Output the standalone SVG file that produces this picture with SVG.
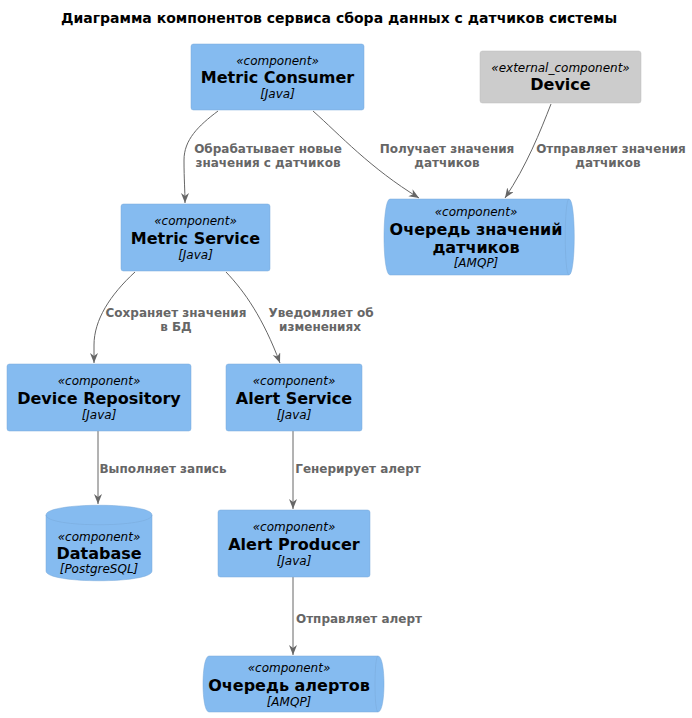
<svg xmlns="http://www.w3.org/2000/svg" width="692" height="718" viewBox="0 0 692 718">
<style>
text{font-family:"DejaVu Sans","Liberation Sans",sans-serif;text-anchor:middle}
.title{font-size:14px;font-weight:bold;fill:#000}
.st{font-size:12px;font-style:italic;fill:#000}
.nm{font-size:16px;font-weight:bold;fill:#000}
.tc{font-size:12px;font-style:italic;fill:#000}
.lb{font-size:12px;font-weight:bold;fill:#666666}
.comp{fill:#85BBF0;stroke:#78A8D8;stroke-width:0.5}
.ext{fill:#CCCCCC;stroke:#BFBFBF;stroke-width:0.5}
.inner{fill:none;stroke:#78A8D8;stroke-width:0.5}
.edge{fill:none;stroke:#666666;stroke-width:1}
</style>
<defs>
<marker id="arr" markerUnits="userSpaceOnUse" markerWidth="12" markerHeight="10" refX="10" refY="4" orient="auto">
<path d="M0,0 L10,4 L0,8 L3,4 Z" fill="#666666"/>
</marker>
</defs>
<rect width="692" height="718" fill="#FFFFFF"/>
<text class="title" x="339" y="23">Диаграмма компонентов сервиса сбора данных с датчиков системы</text>

<g id="connectors">
<path class="edge" marker-end="url(#arr)" d="M218,111 C198,126 184,140 184,160 C184,180 185,190 185,203"/>
<text class="lb" x="268" y="153">Обрабатывает новые</text>
<text class="lb" x="268" y="167">значения с датчиков</text>
<path class="edge" marker-end="url(#arr)" d="M313,111 C340,135 370,168 419,198"/>
<text class="lb" x="447" y="153">Получает значения</text>
<text class="lb" x="447" y="167">датчиков</text>
<path class="edge" marker-end="url(#arr)" d="M551,104 C540,132 527,165 505,198"/>
<text class="lb" x="611" y="153">Отправляет значения</text>
<text class="lb" x="608" y="167">датчиков</text>
<path class="edge" marker-end="url(#arr)" d="M135,272 C110,295 94,320 94,345 L94,363"/>
<text class="lb" x="176" y="317">Сохраняет значения</text>
<text class="lb" x="176" y="331">в БД</text>
<path class="edge" marker-end="url(#arr)" d="M226,272 C245,292 263,318 280,363"/>
<text class="lb" x="321" y="317">Уведомляет об</text>
<text class="lb" x="320" y="331">изменениях</text>
<path class="edge" marker-end="url(#arr)" d="M98,431 L98,504"/>
<text class="lb" x="163" y="473">Выполняет запись</text>
<path class="edge" marker-end="url(#arr)" d="M293,431 L293,509"/>
<text class="lb" x="358" y="473">Генерирует алерт</text>
<path class="edge" marker-end="url(#arr)" d="M293,577 L293,655"/>
<text class="lb" x="359" y="623">Отправляет алерт</text>
</g>

<g id="metric-consumer">
<rect class="comp" x="191" y="44" width="173" height="66" rx="2.5"/>
<text class="st" x="277.5" y="65">«component»</text>
<text class="nm" x="277.5" y="83">Metric Consumer</text>
<text class="tc" x="277.5" y="98">[Java]</text>
</g>

<g id="device">
<rect class="ext" x="480" y="51" width="161" height="52" rx="2.5"/>
<text class="st" x="560.5" y="72">«external_component»</text>
<text class="nm" x="560.5" y="90">Device</text>
</g>

<g id="sensor-queue">
<path class="comp" d="M390,199 L569,199 C576,199 576,275 569,275 L390,275 C382,275 382,199 390,199 Z"/>
<path class="inner" d="M569,199 C564,199 564,275 569,275"/>
<text class="st" x="476" y="216">«component»</text>
<text class="nm" x="476" y="235">Очередь значений</text>
<text class="nm" x="476" y="253">датчиков</text>
<text class="tc" x="476" y="267">[AMQP]</text>
</g>

<g id="metric-service">
<rect class="comp" x="121" y="204" width="149" height="67" rx="2.5"/>
<text class="st" x="195.5" y="225">«component»</text>
<text class="nm" x="195.5" y="244">Metric Service</text>
<text class="tc" x="195.5" y="259">[Java]</text>
</g>

<g id="device-repository">
<rect class="comp" x="7" y="364" width="184" height="67" rx="2.5"/>
<text class="st" x="99" y="385">«component»</text>
<text class="nm" x="99" y="404">Device Repository</text>
<text class="tc" x="99" y="419">[Java]</text>
</g>

<g id="alert-service">
<rect class="comp" x="226" y="364" width="136" height="67" rx="2.5"/>
<text class="st" x="294" y="385">«component»</text>
<text class="nm" x="294" y="404">Alert Service</text>
<text class="tc" x="294" y="419">[Java]</text>
</g>

<g id="database">
<path class="comp" d="M46,515 C46,502 152,502 152,515 L152,571 C152,584 46,584 46,571 Z"/>
<path class="inner" d="M46,515 C46,528 152,528 152,515"/>
<text class="st" x="99" y="541">«component»</text>
<text class="nm" x="99" y="559">Database</text>
<text class="tc" x="99" y="573">[PostgreSQL]</text>
</g>

<g id="alert-producer">
<rect class="comp" x="218" y="510" width="152" height="67" rx="2.5"/>
<text class="st" x="294" y="531">«component»</text>
<text class="nm" x="294" y="550">Alert Producer</text>
<text class="tc" x="294" y="565">[Java]</text>
</g>

<g id="alert-queue">
<path class="comp" d="M209,656 L378,656 C386,656 386,712 378,712 L209,712 C201,712 201,656 209,656 Z"/>
<path class="inner" d="M378,656 C374,656 374,712 378,712"/>
<text class="st" x="289" y="672">«component»</text>
<text class="nm" x="289" y="691">Очередь алертов</text>
<text class="tc" x="289" y="706">[AMQP]</text>
</g>
</svg>
